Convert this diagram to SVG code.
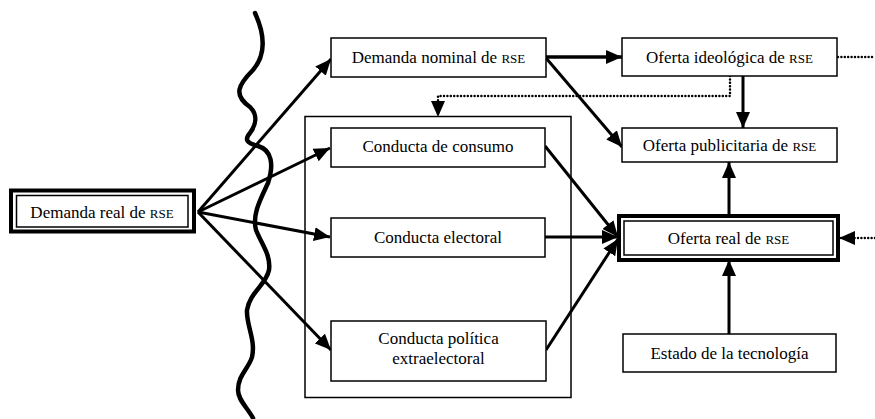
<svg xmlns="http://www.w3.org/2000/svg" width="875" height="419" viewBox="0 0 875 419">
<style>
.box{fill:#fff;stroke:#000;stroke-width:1.5}
.thick{fill:none;stroke:#000;stroke-width:4}
.thin{fill:none;stroke:#000;stroke-width:1.5}
text{font-family:"Liberation Serif","Times New Roman",serif;font-size:17px;fill:#000;text-anchor:middle}
.sc{font-size:13px}
.arr{fill:none;stroke:#000;stroke-width:3;marker-end:url(#ah)}
.dot{fill:none;stroke:#000;stroke-width:2.5;stroke-dasharray:0 3.4;stroke-linecap:round}
.dotarr{fill:none;stroke:#000;stroke-width:2.5;stroke-dasharray:0 3.4;stroke-linecap:round;marker-end:url(#ah)}
</style>
<defs>
<marker id="ah" markerUnits="userSpaceOnUse" markerWidth="18" markerHeight="14" refX="16" refY="7" orient="auto">
<path d="M0,0 L16,7 L0,14 z" fill="#000"/>
</marker>
</defs>
<rect width="875" height="419" fill="#fff"/>

<g id="frame"><rect x="305" y="116.5" width="266" height="281" class="box"/></g>

<path id="wave" d="M255,13 C265,35 266,55 253,70 C238,85 233,95 250,107 C258,115 256,125 250,133 C244,140 247,143 258,146 C272,150 274,165 268,183 C260,200 252,215 256,230 C262,245 271,255 269,270 C266,285 250,292 247,310 C246,325 256,340 252,357 C249,368 238,375 238,390 C238,400 247,407 253,418" fill="none" stroke="#000" stroke-width="4.5" stroke-linecap="round"/>

<g id="connectors">
<path class="arr" d="M198,212 L331,59"/>
<path class="arr" d="M198,212 L330,148"/>
<path class="arr" d="M198,212 L330,237"/>
<path class="arr" d="M198,212 L331,350"/>
<path class="arr" d="M545,146 L618,237"/>
<path class="arr" d="M545,237 L618,237"/>
<path class="arr" d="M546,350 L618,239"/>
<path class="arr" d="M546,57 L622,57" style="stroke-width:3.5"/>
<path class="arr" d="M546,58 L622,147"/>
<path class="arr" d="M743,76 L743,128"/>
<path class="arr" d="M729,215 L729,162"/>
<path class="arr" d="M729,334 L729,260"/>
<path class="dot" d="M838,57 L875,57"/>
<path class="dotarr" d="M730,76 L730,96 L438,96 L438,117"/>
<path class="dotarr" d="M875,238 L839,238"/>
</g>

<g id="demanda-real">
<rect x="11" y="190.5" width="183" height="41" class="thick" fill="#fff"/>
<rect x="16.5" y="195.5" width="171.5" height="31.5" class="thin"/>
<text x="102" y="218">Demanda real de <tspan class="sc">RSE</tspan></text>
</g>

<g id="demanda-nominal">
<rect x="331" y="38" width="215" height="39" class="box"/>
<text x="438.5" y="63">Demanda nominal de <tspan class="sc">RSE</tspan></text>
</g>

<g id="conducta-consumo">
<rect x="331" y="128" width="214" height="39" class="box"/>
<text x="438" y="152">Conducta de consumo</text>
</g>

<g id="conducta-electoral">
<rect x="331" y="218" width="214" height="39" class="box"/>
<text x="438" y="243">Conducta electoral</text>
</g>

<g id="conducta-politica">
<rect x="331" y="321" width="215" height="60" class="box"/>
<text x="438.5" y="344">Conducta política</text>
<text x="438.5" y="364">extraelectoral</text>
</g>

<g id="oferta-ideologica">
<rect x="622" y="38" width="215" height="38" class="box"/>
<text x="729.5" y="63">Oferta ideológica de <tspan class="sc">RSE</tspan></text>
</g>

<g id="oferta-publicitaria">
<rect x="622" y="128" width="215" height="34" class="box"/>
<text x="729.5" y="151">Oferta publicitaria de <tspan class="sc">RSE</tspan></text>
</g>

<g id="oferta-real">
<rect x="619" y="216" width="219" height="44" class="thick" fill="#fff"/>
<rect x="624" y="221" width="209" height="34" class="thin"/>
<text x="728.5" y="244">Oferta real de <tspan class="sc">RSE</tspan></text>
</g>

<g id="estado-tecnologia">
<rect x="623" y="334" width="213" height="38" class="box"/>
<text x="729.5" y="359">Estado de la tecnología</text>
</g>
</svg>
